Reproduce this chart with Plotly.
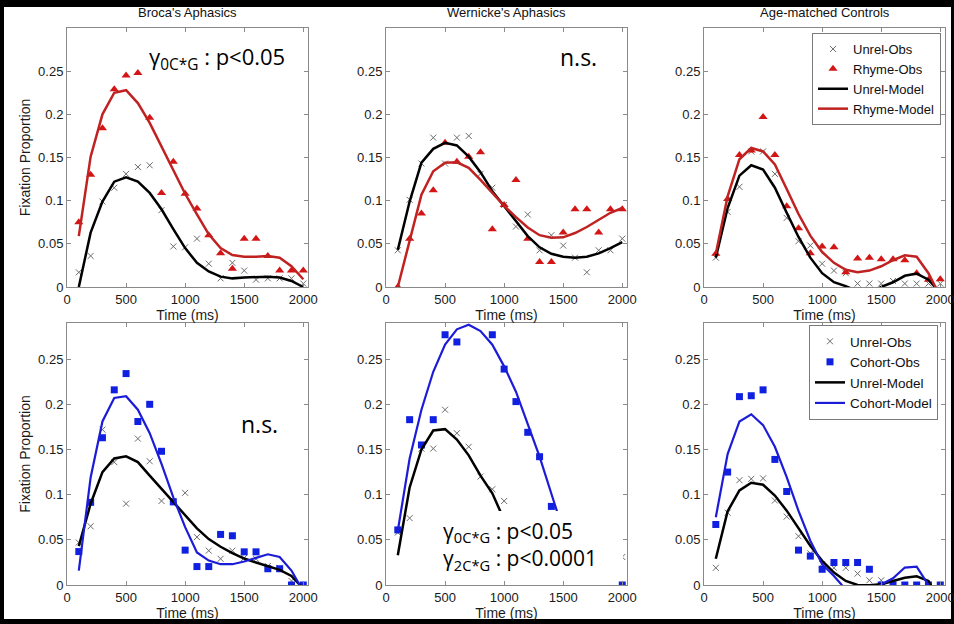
import plotly.graph_objects as go

W, H = 954, 624

time_ms = [100, 200, 300, 400, 500, 600, 700, 800, 900, 1000,
           1100, 1200, 1300, 1400, 1500, 1600, 1700, 1800, 1900, 2000]

panel_titles = ["Broca's Aphasics", "Wernicke's Aphasics", "Age-matched Controls"]
x_ticks = [0, 500, 1000, 1500, 2000]
y_ticks = [0, 0.05, 0.1, 0.15, 0.2, 0.25]
y_ticklabels = ["0", "0.05", "0.1", "0.15", "0.2", "0.25"]

# ---- Rhyme row (top) ----
broca_unrel_obs = [0.017, 0.036, 0.099, 0.115, 0.131, 0.139, 0.141, 0.089, 0.047, 0.046,
                   0.056, 0.027, 0.010, 0.028, 0.019, 0.0085, 0.010, 0.010, 0.010, 0.004]
broca_rhyme_obs = [0.075, 0.130, 0.184, 0.229, 0.245, 0.248, 0.196, 0.109, 0.145, 0.108,
                   0.091, 0.060, 0.039, 0.021, 0.056, 0.056, 0.036, 0.019, 0.019, 0.019]
broca_unrel_model = [0.0, 0.063, 0.099, 0.122, 0.127, 0.122, 0.109, 0.090, 0.067, 0.045,
                     0.028, 0.018, 0.012, 0.010, 0.011, 0.0115, 0.012, 0.011, 0.007, 0.0]
broca_rhyme_model = [0.059, 0.151, 0.200, 0.225, 0.228, 0.213, 0.190, 0.163, 0.136, 0.108,
                     0.084, 0.061, 0.045, 0.037, 0.035, 0.035, 0.036, 0.034, 0.024, 0.009]

wern_unrel_obs = [0.0425, 0.101, 0.143, 0.173, 0.143, 0.173, 0.175, 0.131, 0.115, 0.095,
                  0.070, 0.084, 0.0425, 0.060, 0.048, 0.034, 0.017, 0.0425, 0.0425, 0.056]
wern_rhyme_obs = [0.0, 0.056, 0.085, 0.112, 0.167, 0.145, 0.151, 0.156, 0.067, 0.095,
                  0.124, 0.056, 0.029, 0.029, 0.063, 0.090, 0.090, 0.063, 0.090, 0.090]
wern_unrel_model = [0.043, 0.099, 0.144, 0.160, 0.167, 0.164, 0.151, 0.133, 0.111, 0.0935,
                    0.076, 0.059, 0.046, 0.0385, 0.035, 0.034, 0.035, 0.039, 0.045, 0.052]
wern_rhyme_model = [0.0, 0.055, 0.107, 0.134, 0.144, 0.1445, 0.138, 0.124, 0.109, 0.094,
                    0.081, 0.069, 0.060, 0.057, 0.0575, 0.0625, 0.0695, 0.078, 0.086, 0.0915]

ctrl_unrel_obs = [0.034, 0.087, 0.116, 0.157, 0.157, 0.131, 0.080, 0.053, 0.048, 0.027,
                  0.019, 0.016, 0.004, 0.004, 0.004, 0.007, 0.004, 0.004, 0.004, 0.004]
ctrl_rhyme_obs = [0.0385, 0.102, 0.153, 0.158, 0.197, 0.153, 0.0935, 0.068, 0.039, 0.047,
                  0.046, 0.017, 0.033, 0.034, 0.032, 0.032, 0.031, 0.016, 0.0085, 0.009]
ctrl_unrel_model = [0.034, 0.0915, 0.129, 0.141, 0.136, 0.115, 0.086, 0.058, 0.034, 0.016,
                    0.0055, 0.001, -0.005, -0.007, 0.0, 0.0055, 0.013, 0.0155, 0.0085, -0.007]
ctrl_rhyme_model = [0.0385, 0.105, 0.148, 0.161, 0.157, 0.142, 0.1135, 0.0845, 0.0595, 0.0405,
                    0.028, 0.020, 0.017, 0.019, 0.024, 0.031, 0.0367, 0.035, 0.016, -0.011]

# ---- Cohort row (bottom) ----
broca2_unrel_obs = [0.047, 0.065, 0.172, 0.136, 0.090, 0.162, 0.137, 0.093, 0.093, 0.102,
                    0.053, 0.038, 0.029, 0.038, 0.030, 0.029, 0.021, 0.019, 0.0045, 0.0]
broca_cohort_obs = [0.037, 0.0915, 0.163, 0.216, 0.234, 0.181, 0.200, 0.148, 0.092, 0.0386,
                    0.0204, 0.0204, 0.056, 0.0545, 0.0367, 0.0367, 0.018, 0.018, 0.0, 0.0]
broca2_unrel_model = [0.043, 0.090, 0.125, 0.140, 0.1425, 0.136, 0.121, 0.1065, 0.0915, 0.0775,
                      0.0627, 0.0508, 0.0423, 0.0352, 0.0293, 0.0249, 0.0211, 0.0167, 0.010, -0.004]
broca_cohort_model = [0.016, 0.119, 0.181, 0.207, 0.209, 0.194, 0.168, 0.134, 0.097, 0.064,
                      0.036, 0.027, 0.023, 0.023, 0.026, 0.030, 0.034, 0.031, 0.016, -0.007]

wern2_unrel_obs = [0.058, 0.074, 0.151, 0.151, 0.194, 0.168, 0.153, 0.120, 0.106, 0.093,
                   None, None, None, None, None, None, None, None, None, 0.031]
wern_cohort_obs = [0.061, 0.183, 0.155, 0.183, 0.277, 0.269, None, None, 0.277, 0.239,
                   0.203, 0.169, 0.142, 0.087, None, None, None, None, None, 0.0]
wern2_unrel_model = [0.033, 0.108, 0.150, 0.171, 0.1725, 0.161, 0.1435, 0.121, 0.1015, 0.072,
                     None, None, None, None, None, None, None, None, None, None]
wern_cohort_model = [0.060, 0.140, 0.194, 0.236, 0.266, 0.283, 0.288, 0.281, 0.266, 0.242,
                     0.214, 0.179, 0.142, 0.101, 0.060, None, None, None, None, None]

ctrl2_unrel_obs = [0.019, 0.080, 0.116, 0.1175, 0.118, 0.0935, 0.0757, 0.054, 0.035, 0.023,
                   0.019, 0.019, 0.0126, 0.0052, 0.0052, 0.003, 0.0, 0.0, 0.0, 0.0]
ctrl_cohort_obs = [0.067, 0.125, 0.2085, 0.2095, 0.216, 0.139, 0.1035, 0.0386, 0.032, 0.0174,
                   0.0249, 0.0249, 0.0249, 0.0174, 0.0, 0.0, 0.0, 0.0, 0.0, 0.0]
ctrl2_unrel_model = [0.029, 0.0816, 0.1046, 0.1131, 0.111, 0.099, 0.0823, 0.0627, 0.0434, 0.0267,
                     0.0137, 0.0045, 0.0, -0.0004, 0.0007, 0.0045, 0.008, 0.0096, 0.0045, -0.02]
ctrl_cohort_model = [0.075, 0.145, 0.181, 0.189, 0.177, 0.153, 0.1195, 0.082, 0.049, 0.023,
                     0.010, -0.005, -0.02, -0.01, 0.0007, 0.0074, 0.0193, 0.0204, 0.0, -0.03]

FONT = "Liberation Sans, Arial, sans-serif"
ANN_FONT = "Open Sans, sans-serif"
GRAY_X = "#6b6b6b"
RED_M = "#d41515"
RED_L = "#c02222"
BLUE_M = "#1020e0"
BLUE_L = "#1c1cd8"
AXC = "#8a8a8a"
TXT = "#1a1a1a"


def px(x):
    return x / W


def py(y):
    return 1 - y / H


col_px = [(67, 308), (386, 627), (704, 945)]
row_px = [(28, 287), (323, 585)]
row_ymax = [0.30, 0.29]

panels = [
    # row, col, unrel_obs, comp_obs, unrel_model, comp_model, kind
    (0, 0, broca_unrel_obs, broca_rhyme_obs, broca_unrel_model, broca_rhyme_model, "Rhyme"),
    (0, 1, wern_unrel_obs, wern_rhyme_obs, wern_unrel_model, wern_rhyme_model, "Rhyme"),
    (0, 2, ctrl_unrel_obs, ctrl_rhyme_obs, ctrl_unrel_model, ctrl_rhyme_model, "Rhyme"),
    (1, 0, broca2_unrel_obs, broca_cohort_obs, broca2_unrel_model, broca_cohort_model, "Cohort"),
    (1, 1, wern2_unrel_obs, wern_cohort_obs, wern2_unrel_model, wern_cohort_model, "Cohort"),
    (1, 2, ctrl2_unrel_obs, ctrl_cohort_obs, ctrl2_unrel_model, ctrl_cohort_model, "Cohort"),
]

fig = go.Figure()
layout = {}

for i, (r, c, uo, co, um, cm, kind) in enumerate(panels):
    n = i + 1
    xa = "x" if n == 1 else f"x{n}"
    ya = "y" if n == 1 else f"y{n}"
    show = (c == 2)
    lg = "legend" if r == 0 else "legend2"
    if kind == "Rhyme":
        m_sym, m_col, l_col, m_size = "triangle-up", RED_M, RED_L, 8
    else:
        m_sym, m_col, l_col, m_size = "square", BLUE_M, BLUE_L, 7
    fig.add_trace(go.Scatter(x=time_ms, y=uo, mode="markers", name="Unrel-Obs",
                             marker=dict(symbol="x-thin", size=6, line=dict(width=1, color=GRAY_X), color=GRAY_X),
                             xaxis=xa, yaxis=ya, showlegend=show, legend=lg))
    fig.add_trace(go.Scatter(x=time_ms, y=co, mode="markers", name=f"{kind}-Obs",
                             marker=dict(symbol=m_sym, size=m_size, color=m_col, line=dict(width=0)),
                             xaxis=xa, yaxis=ya, showlegend=show, legend=lg))
    fig.add_trace(go.Scatter(x=time_ms, y=um, mode="lines", name="Unrel-Model",
                             line=dict(color="black", width=2.5),
                             xaxis=xa, yaxis=ya, showlegend=show, legend=lg))
    fig.add_trace(go.Scatter(x=time_ms, y=cm, mode="lines", name=f"{kind}-Model",
                             line=dict(color=l_col, width=2.5 if kind == "Rhyme" else 2.2),
                             xaxis=xa, yaxis=ya, showlegend=show, legend=lg))

    x0, x1 = col_px[c]
    y0, y1 = row_px[r]
    xkey = "xaxis" if n == 1 else f"xaxis{n}"
    ykey = "yaxis" if n == 1 else f"yaxis{n}"
    layout[xkey] = dict(
        domain=[px(x0), px(x1)], anchor=ya, range=[0, 2040], tickvals=x_ticks,
        ticks="inside", ticklen=4, tickcolor=AXC, showline=True, linecolor=AXC, linewidth=1,
        mirror="ticks", showgrid=False, zeroline=False, automargin=False,
        ticklabeloverflow="allow",
        tickfont=dict(family=FONT, size=13, color=TXT),
        title=dict(text="Time (ms)", font=dict(family=FONT, size=14, color=TXT), standoff=2),
    )
    ydict = dict(
        domain=[py(y1), py(y0)], anchor=xa, range=[0, row_ymax[r]], tickvals=y_ticks,
        ticktext=y_ticklabels, ticks="inside", ticklen=4, tickcolor=AXC, showline=True,
        linecolor=AXC, linewidth=1, mirror="ticks", showgrid=False, zeroline=False,
        automargin=False, ticklabeloverflow="allow",
        tickfont=dict(family=FONT, size=13, color=TXT),
    )
    if c == 0:
        ydict["title"] = dict(text="Fixation Proportion",
                              font=dict(family=FONT, size=14, color=TXT), standoff=4)
    layout[ykey] = ydict

annotations = []
for c, t in enumerate(panel_titles):
    x0, x1 = col_px[c]
    annotations.append(dict(text=t, x=px((x0 + x1) / 2), y=py(12), xref="paper", yref="paper",
                            xanchor="center", yanchor="middle", showarrow=False,
                            font=dict(family=FONT, size=13, color="#111")))

stat_font = dict(family=ANN_FONT, size=22, color="black")
annotations += [
    dict(text="γ<sub>0C*G</sub> : p<0.05", x=px(147), y=py(58), xref="paper", yref="paper",
         xanchor="left", yanchor="middle", showarrow=False, font=stat_font),
    dict(text="n.s.", x=px(578), y=py(57), xref="paper", yref="paper",
         xanchor="center", yanchor="middle", showarrow=False, font=dict(family=ANN_FONT, size=23, color="black")),
    dict(text="n.s.", x=px(259), y=py(424), xref="paper", yref="paper",
         xanchor="center", yanchor="middle", showarrow=False, font=dict(family=ANN_FONT, size=23, color="black")),
    dict(text="γ<sub>0C*G</sub> : p<0.05<br>γ<sub>2C*G</sub> : p<0.0001", x=px(441), y=py(546),
         xref="paper", yref="paper", xanchor="left", yanchor="middle", align="left",
         showarrow=False, font=dict(family=ANN_FONT, size=21, color="black")),
]

shapes = [
    dict(type="rect", xref="paper", yref="paper", x0=px(4), x1=px(951), y0=py(619), y1=py(7),
         fillcolor="white", line=dict(width=0), layer="below"),
    # white text box covering part of the Wernicke cohort panel
    dict(type="rect", xref="paper", yref="paper", x0=px(436), x1=px(623), y0=py(581), y1=py(511),
         fillcolor="white", line=dict(width=0), layer="above"),
]

legend_common = dict(bgcolor="white", bordercolor="#7a7a7a", borderwidth=1,
                     itemwidth=30, tracegroupgap=0, xanchor="right", yanchor="top")

fig.update_layout(
    width=W, height=H, autosize=False, margin=dict(l=0, r=0, t=0, b=0, autoexpand=False),
    paper_bgcolor="black", plot_bgcolor="white",
    annotations=annotations, shapes=shapes,
    legend=dict(x=px(941), y=py(33), font=dict(family=FONT, size=13, color="#111"), **legend_common),
    legend2=dict(x=px(938), y=py(325), font=dict(family=FONT, size=13.5, color="#111"), **legend_common),
    **layout,
)

page_fix = (
    "var s=document.documentElement.style;s.margin='0';s.padding='0';s.overflow='hidden';"
    "var b=document.body.style;b.margin='0';b.padding='0';b.overflow='hidden';b.background='black';"
)

fig.write_html(
    "out.html",
    config={"responsive": False, "displayModeBar": False},
    post_script=page_fix,
)
